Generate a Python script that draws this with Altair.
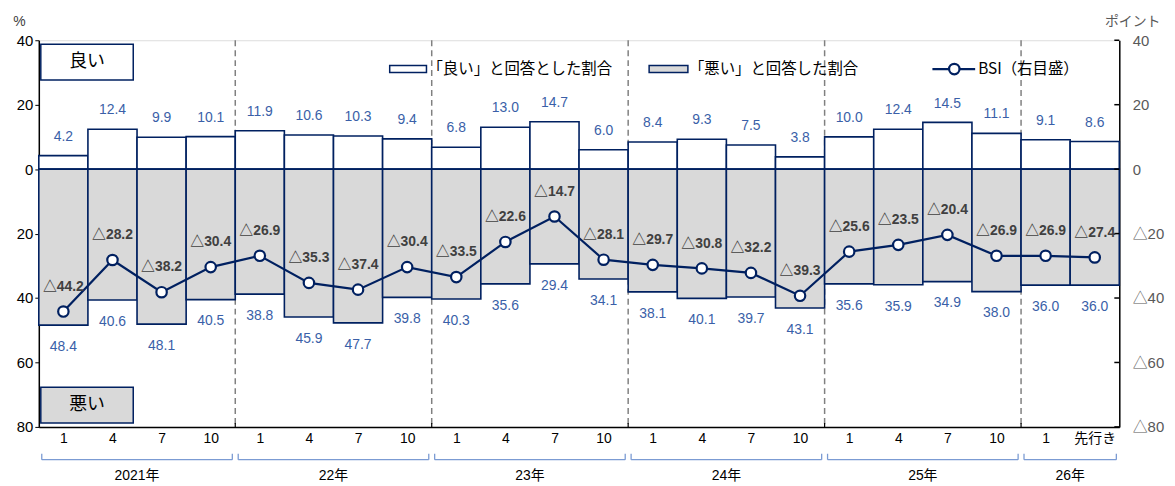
import altair as alt
import pandas as pd

# ---------------- data ----------------
quarters = ["1", "4", "7", "10", "1", "4", "7", "10", "1", "4", "7", "10",
            "1", "4", "7", "10", "1", "4", "7", "10", "1", "先行き"]
good = [4.2, 12.4, 9.9, 10.1, 11.9, 10.6, 10.3, 9.4, 6.8, 13.0, 14.7, 6.0,
        8.4, 9.3, 7.5, 3.8, 10.0, 12.4, 14.5, 11.1, 9.1, 8.6]
bad = [48.4, 40.6, 48.1, 40.5, 38.8, 45.9, 47.7, 39.8, 40.3, 35.6, 29.4, 34.1,
       38.1, 40.1, 39.7, 43.1, 35.6, 35.9, 34.9, 38.0, 36.0, 36.0]
bsi = [-44.2, -28.2, -38.2, -30.4, -26.9, -35.3, -37.4, -30.4, -33.5, -22.6, -14.7, -28.1,
       -29.7, -30.8, -32.2, -39.3, -25.6, -23.5, -20.4, -26.9, -26.9, -27.4]
years = ["2021年", "22年", "23年", "24年", "25年", "26年"]
year_start = [0, 4, 8, 12, 16, 20]
year_end = [4, 8, 12, 16, 20, 22]
boundaries = [4, 8, 12, 16, 20]
y_ticks = [-80, -60, -40, -20, 0, 20, 40]

# ---------------- style ----------------
W, H = 1087, 389
NAVY = "#002060"
GREY_FILL = "#d9d9d9"
LBL_BLUE = "#3a5fa8"
BRACKET = "#7b9bd3"
NUM_FONT = "Liberation Sans, Arial, Noto Sans CJK JP, sans-serif"
JP_FONT = "Noto Sans CJK JP, sans-serif"

n = len(quarters)
df = pd.DataFrame({
    "i": list(range(n)),
    "q": quarters,
    "good": good,
    "bad": [-b for b in bad],
    "bsi": bsi,
})
df["x0"] = df["i"]
df["x1"] = df["i"] + 1
df["xc"] = df["i"] + 0.5
df["zero"] = 0
df["good_lbl"] = [f"{v:.1f}" for v in good]
df["bad_lbl"] = [f"{v:.1f}" for v in bad]
df["bsi_lbl"] = [("△" + f"{abs(v):.1f}") if v < 0 else f"{v:.1f}" for v in bsi]

ydf = pd.DataFrame({
    "year": years,
    "ys": [s + 0.06 for s in year_start],
    "ye": [e - 0.06 for e in year_end],
    "yc": [(s + e) / 2 for s, e in zip(year_start, year_end)],
})
bdf = pd.DataFrame({"b": boundaries})
tdf = pd.DataFrame({"t": y_ticks})
one = pd.DataFrame({"a": [0]})

xs = alt.Scale(domain=[0, n], nice=False, zero=False)
label_arr = "[" + ",".join("'" + q + "'" for q in quarters) + "]"
xaxis = alt.Axis(values=[i + 0.5 for i in range(n)],
                 labelExpr=label_arr + "[floor(datum.value)]",
                 title=None, ticks=False, grid=False, domain=True,
                 domainColor="black", domainWidth=1.5,
                 labelFontSize=14, labelColor="black", labelFont=NUM_FONT,
                 labelPadding=5, labelBaseline="top")


def ysc():
    return alt.Scale(domain=[-80, 40], nice=False, zero=False)


def X(field):
    return alt.X(field, type="quantitative", scale=xs, axis=xaxis)


left_axis = alt.Axis(values=y_ticks, labelExpr="abs(datum.value)", grid=False,
                     title="%", titleAngle=0, titleX=-20, titleY=-12,
                     titleBaseline="bottom", titleAlign="center",
                     titleFontSize=14, titleFontWeight="normal", titleColor="#404040",
                     titleFont=NUM_FONT,
                     labelFontSize=15, labelColor="black", labelFont=NUM_FONT,
                     tickSize=4, tickColor="black", labelPadding=2,
                     domainColor="black", domainWidth=1.5, orient="left")
right_axis = alt.Axis(values=y_ticks,
                      labelExpr="datum.value < 0 ? '△' + abs(datum.value) : datum.value",
                      grid=False, title="ポイント", titleAngle=0, titleX=13, titleY=-12,
                      titleBaseline="bottom", titleAlign="center",
                      titleFontSize=14, titleFontWeight="normal", titleColor="#595959",
                      titleFont=JP_FONT,
                      labelFontSize=15, labelColor="#595959", labelFont=NUM_FONT,
                      tickSize=0, labelPadding=13,
                      domainColor="black", domainWidth=1.5, orient="right")

# dashed year separators
dashes = alt.Chart(bdf).mark_rule(color="#808080", strokeDash=[6, 4], strokeWidth=1.5).encode(
    x=X("b"), y=alt.value(0), y2=alt.value(H))

good_bars = alt.Chart(df).mark_rect(fill="white", stroke=NAVY, strokeWidth=1.6).encode(
    x=X("x0"), x2="x1",
    y=alt.Y("zero:Q", scale=ysc(), axis=left_axis), y2="good")

bad_bars = alt.Chart(df).mark_rect(fill=GREY_FILL, stroke=NAVY, strokeWidth=1.6).encode(
    x=X("x0"), x2="x1",
    y=alt.Y("zero:Q", scale=ysc(), axis=None), y2="bad")

good_text = alt.Chart(df).mark_text(dy=-19, fontSize=14, color=LBL_BLUE, font=NUM_FONT,
                                    baseline="middle").encode(
    x=X("xc"), y=alt.Y("good:Q", scale=ysc(), axis=None), text="good_lbl")

bad_text = alt.Chart(df).mark_text(dy=22, fontSize=14, color=LBL_BLUE, font=NUM_FONT,
                                   baseline="middle").encode(
    x=X("xc"), y=alt.Y("bad:Q", scale=ysc(), axis=None), text="bad_lbl")

bsi_line = alt.Chart(df).mark_line(color=NAVY, strokeWidth=2.2).encode(
    x=X("xc"), y=alt.Y("bsi:Q", scale=ysc(), axis=right_axis))

bsi_pts = alt.Chart(df).mark_point(shape="circle", filled=True, fill="white", stroke=NAVY,
                                   strokeWidth=2.2, size=110, opacity=1).encode(
    x=X("xc"), y=alt.Y("bsi:Q", scale=ysc(), axis=None))

bsi_text = alt.Chart(df).mark_text(dy=-25, fontSize=14, fontWeight="bold", color="#404040",
                                   font=NUM_FONT, baseline="middle").encode(
    x=X("xc"), y=alt.Y("bsi:Q", scale=ysc(), axis=None), text="bsi_lbl")

# inward ticks on right axis
rticks = alt.Chart(tdf).mark_rule(color="black", strokeWidth=1.5).encode(
    x=alt.value(W - 5), x2=alt.value(W),
    y=alt.Y("t:Q", scale=ysc(), axis=None))

# inward ticks at year boundaries on bottom axis
bticks = alt.Chart(bdf).mark_rule(color="black", strokeWidth=1.2).encode(
    x=X("b"), y=alt.value(H - 4), y2=alt.value(H))

# year brackets below the axis
br_h = alt.Chart(ydf).mark_rule(color=BRACKET, strokeWidth=1.3).encode(
    x=X("ys"), x2="ye", y=alt.value(H + 33))
br_l = alt.Chart(ydf).mark_rule(color=BRACKET, strokeWidth=1.3).encode(
    x=X("ys"), y=alt.value(H + 27), y2=alt.value(H + 33))
br_r = alt.Chart(ydf).mark_rule(color=BRACKET, strokeWidth=1.3).encode(
    x=X("ye"), y=alt.value(H + 27), y2=alt.value(H + 33))
yr_text = alt.Chart(ydf).mark_text(fontSize=14, font=NUM_FONT, color="black",
                                   baseline="middle").encode(
    x=X("yc"), y=alt.value(H + 49), text="year")

# "良い" / "悪い" boxes
box_good = alt.Chart(one).mark_rect(fill="white", stroke=NAVY, strokeWidth=1.5).encode(
    x=alt.value(2), x2=alt.value(95), y=alt.value(4), y2=alt.value(40))
box_good_t = alt.Chart(one).mark_text(text="良い", fontSize=18, font=JP_FONT, color="black",
                                      baseline="middle").encode(
    x=alt.value(48.5), y=alt.value(22))
box_bad = alt.Chart(one).mark_rect(fill=GREY_FILL, stroke=NAVY, strokeWidth=1.5).encode(
    x=alt.value(2), x2=alt.value(95), y=alt.value(349), y2=alt.value(385))
box_bad_t = alt.Chart(one).mark_text(text="悪い", fontSize=18, font=JP_FONT, color="black",
                                     baseline="middle").encode(
    x=alt.value(48.5), y=alt.value(367))

# legend
LY = 29
leg1 = alt.Chart(one).mark_rect(fill="white", stroke=NAVY, strokeWidth=1.5).encode(
    x=alt.value(353), x2=alt.value(390), y=alt.value(LY - 3.5), y2=alt.value(LY + 3.5))
leg1t = alt.Chart(one).mark_text(text="「良い」と回答とした割合", fontSize=15.5, font=JP_FONT,
                                 color="black", align="left", baseline="middle").encode(
    x=alt.value(391), y=alt.value(LY))
leg2 = alt.Chart(one).mark_rect(fill=GREY_FILL, stroke=NAVY, strokeWidth=1.5).encode(
    x=alt.value(614), x2=alt.value(653), y=alt.value(LY - 3.5), y2=alt.value(LY + 3.5))
leg2t = alt.Chart(one).mark_text(text="「悪い」と回答した割合", fontSize=15.5, font=JP_FONT,
                                 color="black", align="left", baseline="middle").encode(
    x=alt.value(654), y=alt.value(LY))
leg3 = alt.Chart(one).mark_rule(color=NAVY, strokeWidth=2.2).encode(
    x=alt.value(899), x2=alt.value(942), y=alt.value(LY))
leg3p = alt.Chart(one).mark_point(shape="circle", filled=True, fill="white", stroke=NAVY,
                                  strokeWidth=2.2, size=110, opacity=1).encode(
    x=alt.value(921), y=alt.value(LY))
leg3t = alt.Chart(one).mark_text(text="BSI（右目盛）", fontSize=15.5, font=JP_FONT,
                                 color="black", align="left", baseline="middle").encode(
    x=alt.value(945), y=alt.value(LY))

chart = alt.layer(
    dashes, good_bars, bad_bars, bticks, rticks,
    good_text, bad_text, bsi_line, bsi_pts, bsi_text,
    br_h, br_l, br_r, yr_text,
    box_good, box_good_t, box_bad, box_bad_t,
    leg1, leg1t, leg2, leg2t, leg3, leg3p, leg3t,
).resolve_scale(y="independent").properties(
    width=W, height=H,
    autosize=alt.AutoSizeParams(type="none"),
    padding={"left": 31, "top": 31, "right": 48, "bottom": 58},
).configure_view(stroke="black", strokeWidth=1.5).configure(background="white")

chart.save("out.html", embed_options={"renderer": "svg", "actions": False})
